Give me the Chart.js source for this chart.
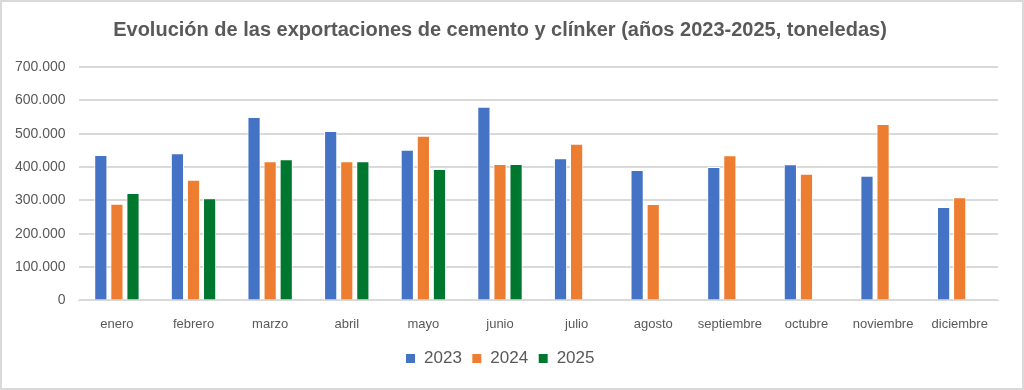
<!DOCTYPE html>
<html>
<head>
<meta charset="utf-8">
<script src="https://cdn.jsdelivr.net/npm/chart.js@4"></script>
<style>
  html, body { margin: 0; padding: 0; background: #fff; }
  #wrap { position: relative; width: 1020px; height: 386px; border: 2px solid #d9d9d9; }
</style>
</head>
<body>
<div id="wrap"><canvas id="chart"></canvas></div>
<script>
// Datos
var meses = ['enero', 'febrero', 'marzo', 'abril', 'mayo', 'junio', 'julio', 'agosto', 'septiembre', 'octubre', 'noviembre', 'diciembre'];
var datos2023 = [436000, 441000, 550000, 508000, 452000, 581000, 426000, 391000, 400000, 408000, 374000, 280000];
var datos2024 = [290000, 362000, 417000, 417000, 494000, 409000, 470000, 289000, 435000, 380000, 529000, 309000];
var datos2025 = [322000, 306000, 423000, 417000, 394000, 409000, null, null, null, null, null, null];

var gris = '#595959';

function serie(label, data, color) {
    return {
        label: label,
        data: data,
        backgroundColor: color,
        borderColor: '#ffffff',
        borderWidth: 1,
        categoryPercentage: 0.63,
        barPercentage: 0.82
    };
}

new Chart(document.getElementById('chart'), {
    type: 'bar',
    data: {
        labels: meses,
        datasets: [
            serie('2023', datos2023, '#4472c4'),
            serie('2024', datos2024, '#ed7d31'),
            serie('2025', datos2025, '#00772f')
        ]
    },
    options: {
        responsive: true,
        maintainAspectRatio: false,
        animation: false,
        layout: { padding: { left: 0, right: 24, top: 4, bottom: 11 } },
        plugins: {
            title: {
                display: true,
                text: 'Evolución de las exportaciones de cemento y clínker (años 2023-2025, toneledas)',
                color: gris,
                font: { family: 'Liberation Sans', size: 20, weight: 'bold' },
                padding: { top: 12, bottom: 25 }
            },
            legend: {
                position: 'bottom',
                labels: {
                    color: gris,
                    font: { family: 'Liberation Sans', size: 17 },
                    boxWidth: 10,
                    boxHeight: 10,
                    padding: 10
                }
            },
            tooltip: { enabled: false }
        },
        scales: {
            x: {
                grid: { display: false },
                border: { color: '#d9d9d9' },
                ticks: { color: gris, font: { family: 'Liberation Sans', size: 13 }, padding: 8 }
            },
            y: {
                min: 0,
                max: 700000,
                ticks: {
                    stepSize: 100000,
                    color: gris,
                    font: { family: 'Liberation Sans', size: 14 },
                    padding: 13,
                    callback: function(v) { return v.toLocaleString('es-ES').replace(/\s/g, '.'); }
                },
                grid: { color: '#d9d9d9', lineWidth: 2, drawTicks: false },
                border: { display: false }
            }
        }
    }
});
</script>
</body>
</html>
